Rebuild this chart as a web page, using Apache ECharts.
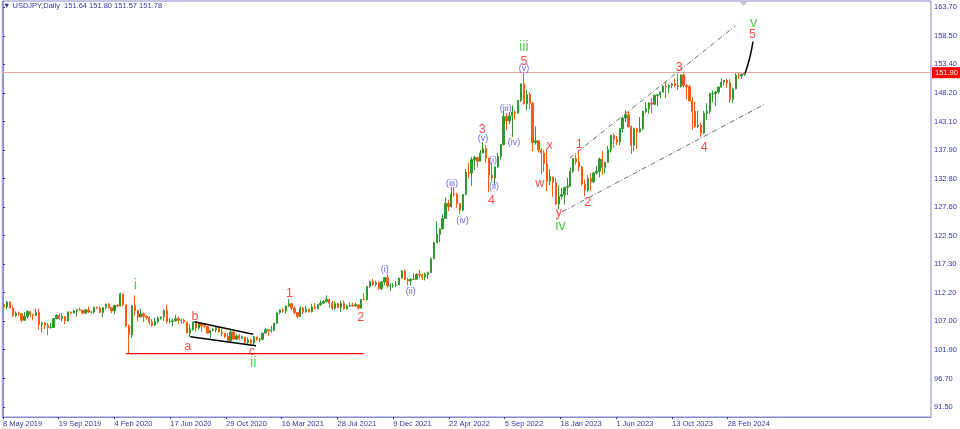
<!DOCTYPE html>
<html>
<head>
<meta charset="utf-8">
<script src="https://cdn.jsdelivr.net/npm/echarts@6/dist/echarts.min.js"></script>
<style>
html,body{margin:0;padding:0;background:#fff;}
#c{width:960px;height:429px;}
</style>
</head>
<body>
<div id="c"></div>
<script>
// ---- tick labels ----
const dateTickBars = [0, 96, 192, 288, 384, 480, 576, 672, 768, 864, 960, 1056, 1152, 1248];
const dateLabels = ['8 May 2019','19 Sep 2019','4 Feb 2020','17 Jun 2020','29 Oct 2020','16 Mar 2021','28 Jul 2021','9 Dec 2021','22 Apr 2022','5 Sep 2022','18 Jan 2023','1 Jun 2023','13 Oct 2023','28 Feb 2024'];
const priceTicks = [91.50, 96.70, 101.90, 107.00, 112.20, 117.30, 122.50, 127.60, 132.80, 137.90, 143.10, 148.20, 153.40, 158.50, 163.70];
const currentPrice = 151.90;

// ---- weekly candles (5 daily bars each) ----
const firstOpen = 110.0;
const weekHigh = [
110.3,110.7,110.6,109.9,108.8,108.8,108.5,108.7,109.0,108.9,
108.4,109.3,109.3,106.9,106.9,106.7,106.7,107.6,108.3,108.5,
108.5,108.0,108.8,108.8,109.1,109.2,109.5,109.1,109.1,109.7,
108.9,109.7,109.7,109.7,109.6,110.2,110.3,109.6,110.0,110.1,
112.2,112.0,110.0,106.5,110.0,111.7,109.0,109.3,108.6,108.1,
107.9,107.4,107.7,107.9,107.9,109.2,109.9,107.6,107.5,108.2,
107.9,107.5,107.5,106.9,106.5,107.0,107.0,106.9,106.6,106.5,
106.2,105.4,105.8,106.1,106.1,105.7,105.0,104.9,105.7,105.2,
104.7,104.8,104.5,104.2,104.1,103.9,104.4,104.2,104.0,104.9,
105.8,105.6,106.2,106.7,108.6,109.2,109.4,109.9,111.0,110.3,
109.7,108.7,109.7,109.6,109.8,109.3,110.2,110.3,110.1,110.8,
110.9,111.7,111.1,110.7,110.6,110.4,110.8,110.8,110.0,110.4,
110.4,110.4,110.1,111.0,112.1,113.4,114.4,114.7,114.3,114.2,
114.3,115.0,115.5,113.9,113.9,114.3,114.9,116.3,116.4,114.9,
114.8,115.7,115.7,116.3,115.6,115.8,116.0,118.5,121.4,125.1,
123.8,126.3,129.4,129.0,131.3,131.3,130.2,128.4,130.0,134.5,
135.6,136.7,136.9,136.6,137.9,139.4,138.9,136.5,135.6,135.0,
137.4,139.0,145.0,144.6,144.7,146.0,145.1,146.9,149.9,151.9,
148.8,148.4,146.6,142.2,139.7,138.3,137.9,138.2,134.5,133.1,
132.9,131.6,131.1,131.2,132.9,134.8,136.5,137.1,137.9,135.1,
132.6,133.4,133.8,134.0,135.1,136.6,137.8,135.8,138.7,140.7,
140.9,140.5,141.9,143.9,145.1,144.9,142.4,142.0,142.0,143.9,
145.0,146.6,146.6,147.4,147.9,147.9,148.5,149.7,150.2,149.8,
150.0,150.8,151.7,151.6,151.9,149.8,149.7,147.5,146.6,145.0,
142.9,145.0,146.4,148.3,148.7,148.6,149.4,150.9,150.6,150.8,
150.7,149.2,151.9,152.0,151.8,151.9];
const weekLow = [
109.0,109.2,109.4,107.8,107.8,108.0,106.8,107.4,107.5,107.8,
107.2,108.0,105.5,105.0,105.6,104.5,105.7,105.9,107.4,107.3,
107.0,106.5,107.0,108.3,108.4,107.9,108.9,108.3,108.3,108.5,
108.4,108.4,109.2,108.5,107.7,109.2,109.3,108.5,108.3,109.6,
109.7,109.7,106.0,101.2,104.0,108.0,107.0,107.8,106.9,107.3,
106.4,106.0,106.2,106.6,107.3,107.1,106.6,106.6,106.1,107.0,
106.6,106.6,106.6,104.9,104.2,105.3,105.1,105.5,105.2,105.9,
104.8,104.0,105.2,105.0,105.0,104.3,104.0,103.4,103.2,103.6,
103.6,103.7,103.9,102.9,102.9,102.8,102.6,103.5,103.3,103.6,
104.9,104.4,105.0,105.2,106.5,108.3,108.6,108.4,109.6,109.0,
108.3,107.5,107.9,108.3,108.6,108.6,108.6,109.2,109.2,109.8,
110.2,110.4,109.5,109.1,109.1,109.4,108.7,109.1,109.1,109.6,
109.6,109.6,109.1,109.3,110.9,110.8,113.0,113.4,113.3,112.7,
112.7,113.6,113.1,112.5,113.1,113.2,113.6,114.8,114.5,113.5,
113.5,114.5,114.6,114.8,114.5,114.4,114.7,115.8,118.3,121.2,
121.3,123.6,125.6,126.9,127.6,129.5,127.5,126.4,126.9,129.8,
132.8,131.5,134.3,134.8,135.9,137.4,135.6,130.4,132.3,131.7,
134.7,136.2,138.8,141.5,142.6,140.3,143.5,144.5,146.6,146.2,
145.1,145.3,137.7,138.9,137.5,133.6,134.0,130.6,131.6,129.5,
128.0,127.2,129.0,128.1,129.8,131.3,133.8,135.3,134.1,131.5,
129.6,130.4,130.6,132.0,133.5,133.0,133.5,133.7,135.6,137.5,
138.4,138.8,138.8,141.1,143.0,142.1,137.2,137.7,138.1,141.1,
141.5,144.6,144.5,144.5,146.0,145.9,147.3,148.3,147.3,148.2,
149.1,149.3,148.8,149.2,149.2,147.1,146.7,141.6,141.9,141.9,
140.3,140.8,143.4,144.4,146.6,145.9,148.1,149.2,149.6,149.2,
146.5,146.5,148.9,150.8,150.8,151.3];
const weekClose = [
109.6,110.5,109.4,108.1,108.5,108.4,107.2,107.9,108.8,108.2,
108.1,108.6,106.5,106.7,106.3,105.9,105.9,107.5,108.1,107.5,
107.9,107.1,108.7,108.5,108.9,109.1,109.0,108.5,109.1,108.7,
108.7,109.5,109.4,108.6,109.5,110.1,109.5,108.9,109.9,109.8,
112.0,110.0,106.2,104.6,109.8,109.0,107.8,108.4,107.9,107.7,
106.9,106.3,107.0,107.6,107.8,109.0,107.0,107.0,107.1,107.5,
107.2,107.2,106.9,104.9,105.6,106.9,105.8,106.6,106.2,106.1,
104.9,105.4,105.5,106.0,105.1,104.8,104.3,103.5,105.1,103.8,
104.4,103.9,104.2,103.2,103.6,103.1,104.2,103.7,103.8,104.9,
105.5,105.3,105.4,106.7,108.6,109.1,108.9,109.8,110.2,109.4,
108.6,107.9,109.4,108.8,109.2,108.8,109.6,109.3,110.0,110.3,
110.6,111.0,110.3,109.4,110.2,109.5,110.3,109.3,109.8,109.9,
109.8,110.0,109.4,111.0,110.9,113.3,114.2,113.7,114.0,112.9,
114.1,114.9,113.4,113.5,113.5,113.6,114.8,116.1,114.6,114.3,
114.6,114.6,115.5,115.4,115.0,115.5,115.8,118.3,121.2,122.7,
123.7,125.6,128.3,127.7,130.0,129.9,128.3,127.1,129.9,133.9,
133.8,136.2,136.6,135.9,137.4,138.2,136.5,133.4,132.9,134.9,
136.8,138.9,144.0,143.2,144.1,144.8,144.6,146.9,149.9,146.3,
147.9,146.4,139.3,139.6,138.0,137.4,135.5,132.3,133.1,132.1,
128.2,129.6,129.9,131.2,131.4,134.1,136.4,135.8,134.9,131.8,
130.7,132.8,132.2,133.8,134.1,136.3,134.8,135.7,138.0,140.6,
139.9,139.4,141.8,143.7,144.3,142.1,138.8,141.8,141.2,141.8,
144.9,145.4,146.4,146.2,147.8,147.9,148.4,149.4,149.3,149.6,
149.9,149.6,149.4,151.5,149.6,149.4,146.8,144.9,142.2,142.4,
141.0,144.6,144.9,148.1,148.1,148.4,149.3,150.2,150.5,150.1,
147.1,149.0,151.4,151.3,151.6,151.78];
const barsPerCandle = 5;

// ---- drawn lines (bar index, price) ----
const supportLine   = [[212, 101.18], [621, 101.18]];
const triangleUpper = [[329.5, 106.95], [431, 104.68]];
const triangleLower = [[322.6, 104.24], [435.6, 102.62]];
const channelUpper  = [[975.6, 136.45], [1261.0, 160.33]];
const channelLower  = [[963.0, 126.81], [1311.4, 146.19]];
const projection    = [[1278, 151.8], [1286, 154.6], [1291.5, 157.5]];

// ---- wave labels (bar index, price, text) ----
const redLabels = [[318.1,102.44,'a'],[330.7,107.80,'b'],[428.7,101.57,'c'],[493.2,111.95,'1'],[616.2,107.62,'2'],
  [825.4,141.55,'3'],[841.0,128.79,'4'],[897.0,153.88,'5'],[941.2,138.79,'x'],[924.5,131.93,'w'],[957.2,126.57,'y'],
  [992.3,138.85,'1'],[1007.0,128.50,'2'],[1164.7,152.87,'3'],[1207.7,138.36,'4'],[1290.8,158.70,'5']];
const greenLabels = [[228.0,113.58,'i'],[431.0,99.50,'ii'],[897.0,156.48,'iii'],[960.0,124.23,'iv'],[1292.5,160.81,'v']];
const blueLabels = [[657.4,116.46,'(i)'],[702.1,112.44,'(ii)'],[773.2,131.81,'(iii)'],[791.1,125.18,'(iv)'],[826.5,139.98,'(v)'],
  [843.7,136.01,'(i)'],[845.4,131.32,'(ii)'],[865.6,145.47,'(iii)'],[879.8,139.33,'(iv)'],[897.0,152.57,'(v)']];

// ---- build ----
const candles = weekClose.map((c, i) => {
  const o = i === 0 ? firstOpen : weekClose[i - 1];
  return [i * barsPerCandle + 2, o, c, weekLow[i], weekHigh[i]];
});
const FONT = 'Liberation Sans, Arial, sans-serif';
const AXIS = '#3636a8';
const FRAME = '#8888d4';

function lineSeries(data, color, width, type) {
  return { type: 'line', data: data, symbol: 'none', silent: true, animation: false,
    lineStyle: { color: color, width: width, type: type || 'solid' }, z: 5 };
}
function labelSeries(arr, color, size) {
  return { type: 'scatter', symbolSize: 0, silent: true, z: 10,
    data: arr.map(d => ({ value: [d[0], d[1]], name: d[2] })),
    label: { show: true, position: 'inside', formatter: p => p.name, color: color, fontSize: size, fontFamily: FONT } };
}

const chart = echarts.init(document.getElementById('c'), null, { renderer: 'canvas' });
chart.setOption({
  animation: false,
  backgroundColor: '#ffffff',
  title: { text: '\u25BC USDJPY,Daily  151.64 151.80 151.57 151.78', left: 3, top: 2, padding: 0,
    textStyle: { fontSize: 7.5, fontWeight: 'normal', color: AXIS, fontFamily: FONT } },
  grid: { left: 1, right: 29, top: 1, bottom: 12, show: true, borderColor: FRAME, borderWidth: 1 },
  xAxis: {
    type: 'value', min: -1.2, max: 1598.1,
    axisLine: { show: true, lineStyle: { color: FRAME } },
    axisTick: { show: true, customValues: dateTickBars, length: 2, lineStyle: { color: AXIS } },
    axisLabel: { customValues: dateTickBars, align: 'left', margin: 3, fontSize: 7.5, color: AXIS, fontFamily: FONT,
      formatter: v => dateLabels[dateTickBars.indexOf(v)] || '' },
    splitLine: { show: false }
  },
  yAxis: {
    type: 'value', position: 'right', min: 89.75, max: 164.84, scale: true,
    axisLine: { show: true, lineStyle: { color: FRAME } },
    axisTick: { show: true, customValues: priceTicks, length: 2, lineStyle: { color: AXIS } },
    axisLabel: { customValues: priceTicks, margin: 3, fontSize: 7.5, color: AXIS, fontFamily: FONT,
      formatter: v => v.toFixed(2) },
    splitLine: { show: false }
  },
  series: [
    { type: 'candlestick', data: candles, encode: { x: 0, y: [1, 2, 3, 4] }, barWidth: 1.8, silent: true, z: 3,
      itemStyle: { color: '#2f9a2f', color0: '#ff5a12', borderColor: '#2f9a2f', borderColor0: '#ff5a12', borderWidth: 1 },
      markLine: { silent: true, symbol: 'none', animation: false,
        lineStyle: { color: '#f4a0a0', width: 1, type: 'solid' },
        label: { show: true, position: 'end', distance: 1, formatter: currentPrice.toFixed(2), color: '#ffffff',
          backgroundColor: '#ff0000', padding: [2, 3, 1, 3], fontSize: 7.5, fontFamily: FONT },
        data: [{ yAxis: currentPrice }] } },
    lineSeries(supportLine, '#ff0000', 1.2),
    lineSeries(triangleUpper, '#000000', 1.4),
    lineSeries(triangleLower, '#000000', 1.4),
    lineSeries(channelUpper, '#707070', 1, [5, 2, 1, 2]),
    lineSeries(channelLower, '#707070', 1, [5, 2, 1, 2]),
    Object.assign(lineSeries(projection, '#000000', 1.5), { smooth: true }),
    labelSeries(redLabels, '#ff1e1e', 12.5),
    labelSeries(greenLabels, '#2cc42c', 14.5),
    labelSeries(blueLabels, '#3a3aee', 9)
  ],
  graphic: [{ type: 'polygon', shape: { points: [[739, 1], [748, 1], [743.5, 6]] }, style: { fill: '#c4c4d0' }, silent: true }]
});
</script>
</body>
</html>
